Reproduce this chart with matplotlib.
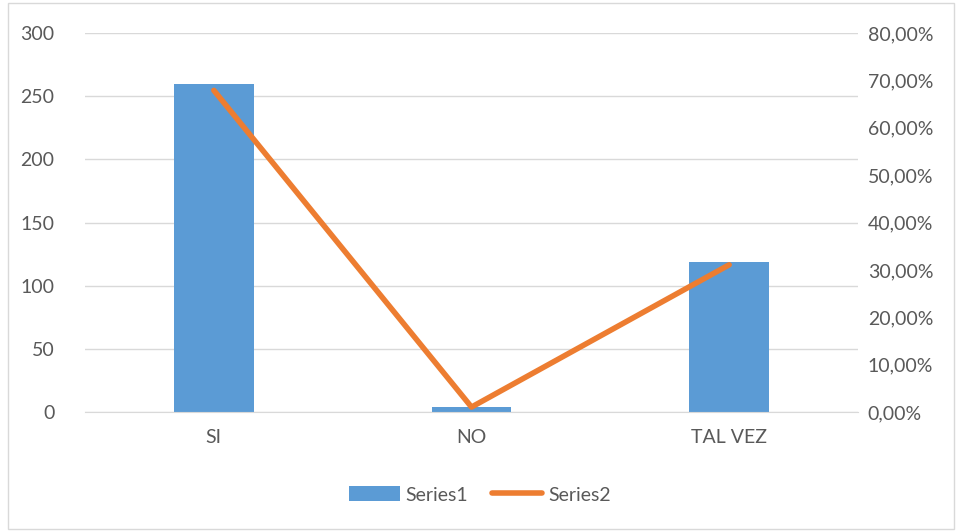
import matplotlib
matplotlib.use("Agg")
import matplotlib.pyplot as plt
from matplotlib.patches import Rectangle
from matplotlib.ticker import FuncFormatter
import numpy as np

categorias = ["SI", "NO", "TAL VEZ"]
series1 = [260, 4, 119]
series2 = [0.6789, 0.0104, 0.3107]

azul = "#5B9BD5"
naranja = "#ED7D31"
gris_texto = "#595959"
gris_linea = "#D9D9D9"

plt.rcParams["font.family"] = ["Lato", "DejaVu Sans"]

fig = plt.figure(figsize=(9.6, 5.31), dpi=100)
ax = fig.add_axes([85 / 960, 1 - 412 / 531, 773 / 960, 379 / 531])
ax2 = ax.twinx()

x = np.arange(len(categorias))
ax.bar(x, series1, width=0.31, color=azul, zorder=2, label="Series1")
ax2.plot(x, series2, color=naranja, linewidth=4, solid_capstyle="round",
         zorder=3, label="Series2")

ax.set_xlim(-0.5, 2.5)
ax.set_ylim(0, 300)
ax.set_yticks(range(0, 301, 50))
ax2.set_ylim(0, 0.8)
ax2.set_yticks(np.arange(0, 0.81, 0.1))
ax2.yaxis.set_major_formatter(
    FuncFormatter(lambda v, p: f"{v * 100:.2f}%".replace(".", ",")))

ax.set_xticks(x)
ax.set_xticklabels(categorias)
ax.grid(axis="y", color=gris_linea, linewidth=1, zorder=0)
ax.set_axisbelow(True)

for a in (ax, ax2):
    for s in a.spines.values():
        s.set_visible(False)
    a.tick_params(length=0, labelsize=14, colors=gris_texto)
ax.spines["bottom"].set_visible(True)
ax.spines["bottom"].set_color(gris_linea)
ax.tick_params(axis="y", pad=22)
ax.tick_params(axis="x", pad=12)
ax2.tick_params(axis="y", pad=7)

h1, l1 = ax.get_legend_handles_labels()
h2, l2 = ax2.get_legend_handles_labels()
fig.legend(h1 + h2, l1 + l2, loc="center", bbox_to_anchor=(0.5, 1 - 495 / 531),
           ncol=2, frameon=False, fontsize=14, labelcolor=gris_texto,
           handlelength=2.6, handleheight=0.8, columnspacing=1.2,
           handletextpad=0.3)

# marco exterior del grafico
fig.patches.append(Rectangle((8 / 960, 0.003), 946 / 960, 1 - 3 / 531 - 0.003,
                             transform=fig.transFigure, fill=False,
                             edgecolor=gris_linea, linewidth=1))

fig.savefig("out.png", dpi=100)
